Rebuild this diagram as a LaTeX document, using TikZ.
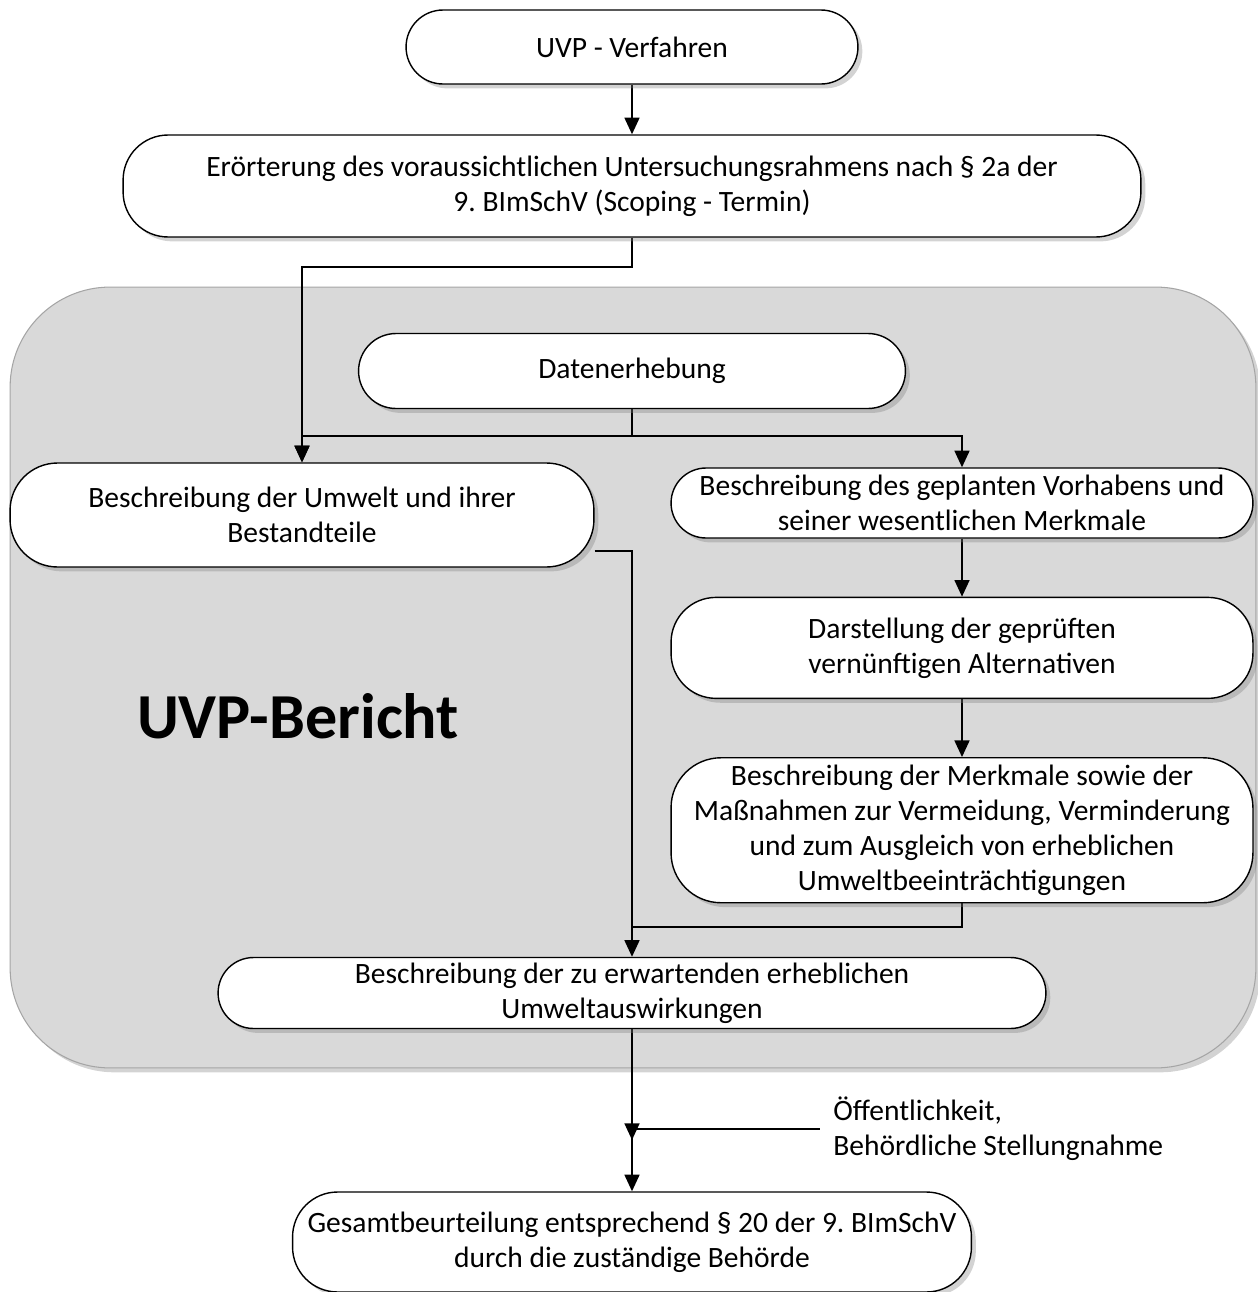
\documentclass[tikz,border=0pt]{standalone}
\usepackage{fontspec}
\setmainfont{Carlito}
\frenchspacing
\usetikzlibrary{arrows.meta, positioning, calc, backgrounds, shadows}
\definecolor{cPanel}{RGB}{217,217,217}
\definecolor{cPanelEdge}{RGB}{165,165,165}
\tikzset{
	stadium/.style  ={rectangle, rounded corners=#1, draw=black, line width=0.8pt, fill=white, align=center, inner sep=2pt,
		drop shadow={shadow xshift=2.5pt, shadow yshift=-2.5pt, opacity=0.35}},
	stadium/.default=0.7cm,
	panel/.style    ={rectangle, rounded corners=2cm, draw=cPanelEdge, fill=cPanel, line width=0.6pt,
		drop shadow={shadow xshift=2.5pt, shadow yshift=-2.5pt, opacity=0.35}},
	flowarrow/.style={-{Triangle[length=9.5pt, width=8.5pt]}, line width=1.1pt},
	flowline/.style ={line width=1.1pt},
}
\begin{document}
\begin{tikzpicture}[x=0.02cm, y=-0.02cm, every node/.style={font=\fontsize{16.8}{20}\selectfont},
		title/.style={font=\fontsize{36.5}{42}\selectfont\bfseries},
		note/.style={fill=white, align=left, anchor=west, inner xsep=0.26cm, inner ysep=0.4cm}]
	\useasboundingbox (0,0) rectangle (1258,1292);
	% main chain
	\node[stadium=0.74cm, minimum width=9.04cm, minimum height=1.48cm] (uvp) at (632,47) {UVP - Verfahren};
	\node[stadium=0.9cm, minimum width=20.36cm, minimum height=2.04cm] (scoping) at (632,186)
	{Erörterung des voraussichtlichen Untersuchungsrahmens nach § 2a der\\9. BImSchV (Scoping - Termin)};
	\node[stadium=0.75cm, minimum width=10.94cm, minimum height=1.5cm] (daten) at (632,371) {Datenerhebung};
	\node[stadium=0.95cm, minimum width=11.68cm, minimum height=2.08cm] (umwelt) at (302,515)
	{Beschreibung der Umwelt und ihrer\\Bestandteile};
	\node[stadium=0.7cm, minimum width=11.64cm, minimum height=1.4cm] (vorhaben) at (962,503)
	{Beschreibung des geplanten Vorhabens und\\seiner wesentlichen Merkmale};
	\node[stadium=0.9cm, minimum width=11.64cm, minimum height=2.02cm, below=1.16cm of vorhaben] (alternativen)
	{Darstellung der geprüften\\vernünftigen Alternativen};
	\node[stadium=1cm, minimum width=11.64cm, minimum height=2.9cm, below=1.16cm of alternativen] (massnahmen)
	{Beschreibung der Merkmale sowie der\\Maßnahmen zur Vermeidung, Verminderung\\und zum Ausgleich von erheblichen\\Umweltbeeinträchtigungen};
	\node[stadium=0.71cm, minimum width=16.56cm, minimum height=1.42cm] (wirkungen) at (632,993)
	{Beschreibung der zu erwartenden erheblichen\\Umweltauswirkungen};
	\node[title] (bericht) at (298,716) {UVP-Bericht};
	% outside the report
	\coordinate (merge) at (632,1129);
	\node[note] (hinweis) at (820,1129) {Öffentlichkeit,\\Behördliche Stellungnahme};
	\node[stadium=0.9cm, minimum width=13.58cm, minimum height=2.0cm] (gesamt) at (632,1242)
	{Gesamtbeurteilung entsprechend § 20 der 9. BImSchV\\durch die zuständige Behörde};
	\begin{scope}[on background layer]
		\node[panel, minimum width=24.92cm, minimum height=15.62cm] (panel) at (633,677.5) {};
		\draw[flowarrow] (uvp) -- (scoping);
		\draw[flowarrow] (scoping.south) -- ++(0,29) -| (umwelt.north);
		\draw[flowline] (daten.south) -- ++(0,27) coordinate (split);
		\draw[flowarrow] (split) -| (umwelt.north);
		\draw[flowarrow] (split) -| (vorhaben.north);
		\draw[flowarrow] (vorhaben) -- (alternativen);
		\draw[flowarrow] (alternativen) -- (massnahmen);
		\draw[flowarrow] (umwelt.-7) -| (wirkungen.north);
		\draw[flowline] (massnahmen.south) |- ($(wirkungen.north)+(0,-30)$);
		\draw[flowarrow] (wirkungen) -- ($(merge)+(0,11)$);
		\draw[flowline] (hinweis.west) -- (merge);
		\draw[flowarrow] (merge) -- (gesamt);
	\end{scope}
\end{tikzpicture}
\end{document}
